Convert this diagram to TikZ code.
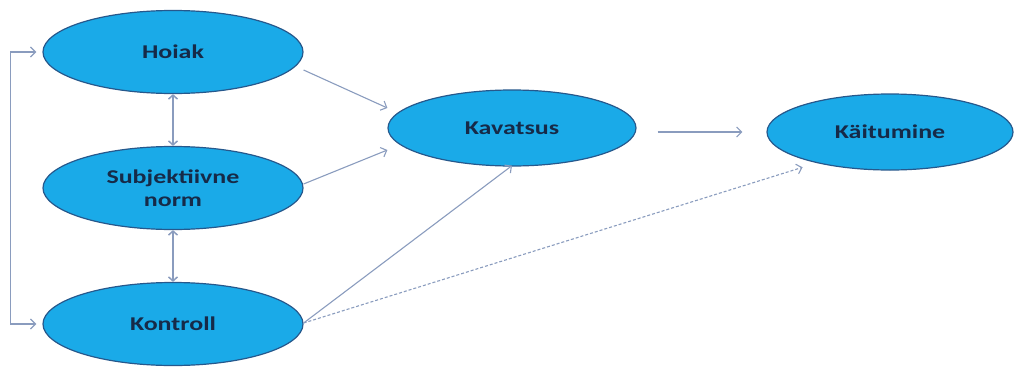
\documentclass[tikz,border=0pt]{standalone}
\usepackage{fontspec}
\setmainfont{Carlito}
\usetikzlibrary{shapes.geometric,arrows.meta}
\definecolor{fillb}{RGB}{26,170,232}
\definecolor{edgeb}{RGB}{38,88,140}
\definecolor{txtc}{RGB}{22,42,72}
\definecolor{arrc}{RGB}{138,156,190}
\newcommand\stretchtxt[1]{\scalebox{1.33}[1]{#1}}
\begin{document}
\begin{tikzpicture}[x=1pt,y=-1pt,
  ell/.style={ellipse, draw=edgeb, fill=fillb, line width=1.2pt, inner sep=0pt,
    minimum width=260pt, minimum height=83pt, text=txtc, align=center,
    font=\bfseries\fontsize{19.5}{23}\selectfont},
  arr/.style={draw=arrc, line width=1.1pt, -{Straight Barb[length=5pt,width=10pt]}},
  dblarr/.style={draw=arrc, line width=1.5pt, {Straight Barb[length=4pt,width=9pt]}-{Straight Barb[length=4pt,width=9pt]}},
  dasharr/.style={arr, dash pattern=on 3pt off 2pt}
]
\useasboundingbox (0,0) rectangle (1014,367);
\node[ell] (hoiak) at (173,52) {\stretchtxt{Hoiak}};
\node[ell] (subj) at (173,188) {\stretchtxt{Subjektiivne}\\\stretchtxt{norm}};
\node[ell] (kontroll) at (173,324) {\stretchtxt{Kontroll}};
\node[ell, minimum width=248pt, minimum height=76pt] (kav) at (512,128) {\stretchtxt{Kavatsus}};
\node[ell, minimum width=246pt, minimum height=76pt] (kait) at (890,132) {\stretchtxt{Käitumine}};

\draw[arr] ([yshift=-18pt]hoiak.east) -- ([yshift=20pt]kav.west);
\draw[arr] ([yshift=4pt]subj.east) -- ([yshift=-22pt]kav.west);
\draw[arr] ([yshift=1pt]kontroll.east) -- ([yshift=1pt]kav.south);
\draw[dasharr] ([yshift=1pt]kontroll.east) -- ([yshift=-8pt]kait.south west);
\draw[arr] ([xshift=21pt,yshift=-4pt]kav.east) -- ([xshift=-24pt]kait.west);

\draw[dblarr] (hoiak.south) -- (subj.north);
\draw[dblarr] (subj.south) -- (kontroll.north);
\draw[arr, line width=1.3pt, {Straight Barb[length=5pt,width=10pt]}-{Straight Barb[length=5pt,width=10pt]}] ([xshift=-6pt]hoiak.west) -- ++(-26,0) |- ([xshift=-6pt]kontroll.west);
\end{tikzpicture}
\end{document}
